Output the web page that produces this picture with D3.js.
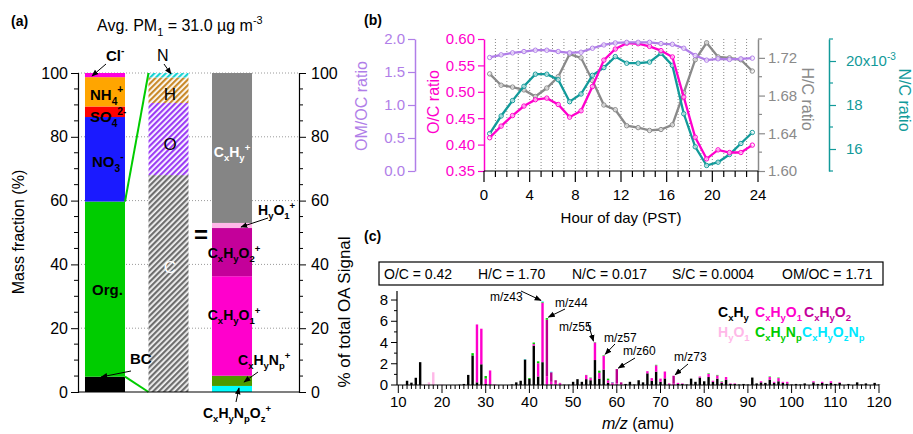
<!DOCTYPE html>
<html><head><meta charset="utf-8">
<script src="https://cdn.jsdelivr.net/npm/d3@7"></script>
<style>
body{margin:0;background:#fff}
svg{display:block}
text{font-family:"Liberation Sans",Arial,Helvetica,sans-serif}
</style>
</head><body>
<svg id="chart" width="913" height="434"></svg>
<script>
// ---------------- DATA ----------------
// Panel (a): PM1 composition (%)
const compNames = ["BC", "Org.", "NO3", "SO4", "NH4", "Cl"];
const compValues = [4.8, 54.9, 26.5, 3.3, 9.2, 1.3];
// Elemental composition of OA (%)
const elemNames = ["C", "O", "H", "N"];
const elemValues = [68.0, 22.6, 8.0, 1.4];
// Ion families of OA (%)
const famNames = ["CxHyNpOz", "CxHyNp", "CxHyO1", "CxHyO2", "HyO1", "CxHy"];
const famValues = [1.9, 3.2, 31.2, 15.1, 1.6, 47.0];

// Panel (b): diurnal cycles
const hours = [0.5,1.5,2.5,3.5,4.5,5.5,6.5,7.5,8.5,9.5,10.5,11.5,12.5,13.5,14.5,15.5,16.5,17.5,18.5,19.5,20.5,21.5,22.5,23.5];
const ocRatio = [0.413,0.435,0.455,0.473,0.485,0.488,0.476,0.452,0.464,0.510,0.560,0.581,0.592,0.591,0.586,0.578,0.566,0.490,0.414,0.373,0.390,0.385,0.385,0.399];
const omocRatio = [1.72,1.76,1.79,1.81,1.83,1.83,1.81,1.79,1.80,1.86,1.91,1.94,1.95,1.95,1.95,1.93,1.92,1.86,1.75,1.68,1.70,1.69,1.70,1.71];
const hcRatio = [1.703,1.691,1.689,1.686,1.679,1.688,1.700,1.724,1.720,1.696,1.670,1.665,1.648,1.646,1.643,1.644,1.649,1.683,1.718,1.736,1.721,1.720,1.718,1.706];
const ncRatio = [0.01670,0.01750,0.01820,0.01885,0.01940,0.01940,0.01915,0.01815,0.01850,0.01935,0.01970,0.02020,0.01990,0.01990,0.01995,0.02035,0.01980,0.01760,0.01610,0.01525,0.01540,0.01575,0.01625,0.01675];

// Panel (c): average HR mass spectrum (% of total OA signal), by ion family
const mzList =   [12,13,14,15,16,17,18,20,24,25,26,27,28,29,30,31,32,36,37,38,39,40,41,42,43,44,45,46,47,48,49,50,51,52,53,54,55,56,57,58,59,60,61,62,63,64,65,66,67,68,69,70,71,72,73,74,75,76,77,78,79,80,81,82,83,84,85,86,87,88,89,90,91,92,93,94,95,96,97,98,99,100,101,102,103,105,106,107,108,109,110,111,113,115,116,117,119,120];
const msCxHy =   [0.40,0.22,0.68,2.15,0,0,0,0,0.03,0.10,0.95,2.78,0.25,1.95,0.10,0.05,0,0.05,0.25,0.40,2.40,0.57,3.70,0.80,2.15,0.03,0.05,0.05,0,0.03,0.03,0.30,0.55,0.30,0.55,0.45,2.35,0.60,1.45,0.20,0,0.05,0,0.10,0.30,0.05,0.45,0.25,1.10,0.40,1.25,0.30,0.62,0.05,0,0.10,0.10,0.05,0.60,0.30,0.70,0.35,0.75,0.30,0.60,0.20,0.50,0.10,0.10,0.05,0.10,0.05,0.70,0.15,0.25,0.20,0.50,0.20,0.35,0.20,0.15,0.05,0.10,0.05,0.15,0.25,0.10,0.20,0.10,0.20,0.10,0.20,0.10,0.25,0.05,0.15,0.20,0.05];
const msCxHyO1 = [0,0,0,0,0,0,0,0,0,0,0,0,5.45,3.35,0.50,1.32,0.05,0,0,0,0,0,0.15,1.25,5.60,0.80,0.25,0.15,0.15,0,0,0,0,0,0.38,0.20,1.65,0.55,1.30,0.25,0.15,0.10,0.05,0,0,0,0,0,0.20,0.25,0.60,0.30,0.65,0.10,0.12,0.10,0.05,0,0,0,0.10,0,0.30,0.10,0.30,0.10,0.25,0.05,0.05,0,0,0,0,0,0.10,0,0.25,0.10,0.30,0.10,0.15,0,0,0,0,0.10,0,0.10,0,0.15,0,0.05,0,0,0,0,0,0];
const msCxHyO2 = [0,0,0,0,0,0,0,0,0,0,0,0,0,0,0,0,0,0,0,0,0,0,0,0,0,5.32,0.90,0.25,0.05,0,0,0,0,0,0,0,0,0,0,0,0.10,1.35,0.20,0,0,0,0,0,0,0,0,0,0,0,0.75,0,0,0,0,0,0,0,0,0,0,0,0,0,0,0,0,0,0,0,0,0,0,0,0,0,0,0,0,0,0,0,0,0,0,0,0,0,0,0,0,0,0,0];
const msHyO1 =   [0,0,0,0,0.05,0.25,1.20,0.05,0,0,0,0,0,0,0,0,0,0,0,0,0,0,0,0,0,0,0,0,0,0,0,0,0,0,0,0,0,0,0,0,0,0,0,0,0,0,0,0,0,0,0,0,0,0,0,0,0,0,0,0,0,0,0,0,0,0,0,0,0,0,0,0,0,0,0,0,0,0,0,0,0,0,0,0,0,0,0,0,0,0,0,0,0,0,0,0,0,0];
const msCxHyNp = [0,0,0,0,0,0,0,0,0,0,0,0.22,0,0,0.25,0,0,0,0,0,0,0.09,0.15,0.18,0.06,0.15,0,0,0,0,0,0,0,0,0.02,0.05,0.03,0.20,0.05,0.15,0,0,0,0,0,0,0,0,0,0,0.05,0,0,0,0,0,0,0,0,0,0,0,0.05,0,0.05,0.05,0,0,0,0,0,0,0,0,0,0,0.05,0,0.05,0,0,0,0,0,0,0,0,0,0,0,0,0,0,0,0,0,0,0];
const msCxHyOzNp=[0,0,0,0,0,0,0,0,0,0,0,0,0,0,0,0,0,0,0,0,0.03,0,0,0,0.06,0,0.05,0,0,0,0,0,0,0,0,0,0,0,0,0,0.03,0,0,0,0,0,0,0,0,0,0,0,0,0,0,0,0,0,0,0,0,0,0,0,0,0,0,0,0,0,0,0,0,0,0,0,0,0,0,0,0,0,0,0,0,0,0,0,0,0,0,0,0,0,0,0,0,0];
const elemRatioLabels = ["O/C = 0.42", "H/C = 1.70", "N/C = 0.017", "S/C = 0.0004", "OM/OC = 1.71"];
const labeledMz = [43, 44, 55, 57, 60, 73];

// ---------------- HELPERS ----------------
const svg = d3.select("#chart");
const defs = svg.append("defs");
defs.append("marker").attr("id","arr").attr("viewBox","0 0 10 10").attr("refX",9).attr("refY",5)
  .attr("markerWidth",7).attr("markerHeight",7).attr("orient","auto-start-reverse")
  .append("path").attr("d","M0,1 L10,5 L0,9 z").attr("fill","#000");

function rich(g, x, y, parts, opt = {}) {
  const size = opt.size || 14;
  const t = g.append("text").attr("x", x).attr("y", y).attr("font-size", size)
    .attr("font-weight", opt.bold ? "bold" : "normal").attr("fill", opt.fill || "#000")
    .attr("text-anchor", opt.anchor || "start");
  if (opt.rotate) t.attr("transform", `rotate(${opt.rotate},${x},${y})`);
  let cur = 0;
  parts.forEach(p => {
    const [s, m, col] = typeof p === "string" ? [p, ""] : p;
    const target = m === "sub" ? size * 0.32 : m === "sup" ? -size * 0.45 : 0;
    const ts = t.append("tspan").attr("dy", target - cur).text(s);
    if (m) ts.attr("font-size", size * 0.68);
    if (col) ts.attr("fill", col);
    cur = target;
  });
  return t;
}
function arrow(g, x1, y1, x2, y2) {
  g.append("line").attr("x1",x1).attr("y1",y1).attr("x2",x2).attr("y2",y2)
    .attr("stroke","#000").attr("stroke-width",1).attr("marker-end","url(#arr)");
}
function hatch(id, color, bg) {
  const p = defs.append("pattern").attr("id", id).attr("patternUnits","userSpaceOnUse")
    .attr("width", 4).attr("height", 4).attr("patternTransform","rotate(45)");
  p.append("rect").attr("width",4).attr("height",4).attr("fill", bg || "#fff");
  p.append("rect").attr("width",2.2).attr("height",4).attr("fill", color);
}
hatch("hC", "#6e6e6e", "#f4f4f4");
hatch("hO", "#9b3cf5");
hatch("hH", "#c98a2a");
hatch("hN", "#19d3d3");

// ================= PANEL A =================
const gA = svg.append("g");
const yA = d3.scaleLinear([0, 100], [392, 73]);
const xA = d3.scaleBand().domain(["ions","elem","fam"]).range([78, 259]).paddingInner(0.37).paddingOuter(0.11);

gA.selectAll("line.grid").data([20,40,60,80,100]).join("line")
  .attr("x1",78).attr("x2",299).attr("y1",d=>yA(d)).attr("y2",d=>yA(d))
  .attr("stroke","#9a9a9a").attr("stroke-dasharray","1,2");

function stack(vals) { let c = 0; return vals.map(v => { const r = [c, c + v]; c += v; return r; }); }
const compColors = ["#000000","#00cc00","#1a1aff","#ff0000","#ffa500","#ff00dd"];
const elemFills = ["url(#hC)","url(#hO)","url(#hH)","url(#hN)"];
const famColors = ["#00ffff","#4d9a00","#ff00cc","#c4009a","#ffb8e8","#858585"];

gA.selectAll("rect.comp").data(stack(compValues)).join("rect")
  .attr("x", xA("ions")).attr("width", xA.bandwidth())
  .attr("y", d=>yA(d[1])).attr("height", d=>yA(d[0])-yA(d[1]))
  .attr("fill",(d,i)=>compColors[i]);
gA.selectAll("rect.elem").data(stack(elemValues)).join("rect")
  .attr("x", xA("elem")).attr("width", xA.bandwidth())
  .attr("y", d=>yA(d[1])).attr("height", d=>yA(d[0])-yA(d[1]))
  .attr("fill",(d,i)=>elemFills[i]);
gA.selectAll("rect.fam").data(stack(famValues)).join("rect")
  .attr("x", xA("fam")).attr("width", xA.bandwidth())
  .attr("y", d=>yA(d[1])).attr("height", d=>yA(d[0])-yA(d[1]))
  .attr("fill",(d,i)=>famColors[i]);

// green connectors (organic -> elemental bar)
const orgStack = stack(compValues)[1];
const b1r = xA("ions") + xA.bandwidth(), b2l = xA("elem");
gA.append("line").attr("x1",b1r).attr("y1",yA(orgStack[1])).attr("x2",b2l).attr("y2",yA(100))
  .attr("stroke","#00cc00").attr("stroke-width",2);
gA.append("line").attr("x1",b1r).attr("y1",yA(orgStack[0])).attr("x2",b2l).attr("y2",yA(0))
  .attr("stroke","#00cc00").attr("stroke-width",2);

// axes
const axL = gA.append("g").attr("transform","translate(78,0)")
  .call(d3.axisLeft(yA).tickValues([0,20,40,60,80,100]).tickSize(7).tickPadding(3));
const axR = gA.append("g").attr("transform","translate(299,0)")
  .call(d3.axisRight(yA).tickValues([0,20,40,60,80,100]).tickSize(7).tickPadding(5));
[axL, axR].forEach(a => { a.selectAll("text").attr("font-size",16).attr("fill","#000");
  a.select(".domain").attr("stroke","#000").attr("stroke-width",1.2); a.selectAll(".tick line").attr("stroke","#000"); });
const minorA = d3.range(5,100,5).filter(v => v % 20 !== 0);
gA.selectAll("line.mL").data(minorA).join("line").attr("x1",74).attr("x2",78)
  .attr("y1",d=>yA(d)).attr("y2",d=>yA(d)).attr("stroke","#000");
gA.selectAll("line.mR").data(minorA).join("line").attr("x1",299).attr("x2",303)
  .attr("y1",d=>yA(d)).attr("y2",d=>yA(d)).attr("stroke","#000");
gA.append("line").attr("x1",78).attr("x2",299).attr("y1",yA(0)).attr("y2",yA(0)).attr("stroke","#000").attr("stroke-width",1.2);

// titles
rich(gA, 11, 26, ["(a)"], {size: 14, bold: true});
rich(gA, 97, 31, ["Avg. PM", ["1","sub"], " = 31.0 \u00b5g m", ["-3","sup"]], {size: 16});
rich(gA, 24, 232, ["Mass fraction (%)"], {size: 16, anchor: "middle", rotate: -90});
rich(gA, 350, 312, ["% of total OA Signal"], {size: 17, anchor: "middle", rotate: -90});

// composition labels
rich(gA, 106, 61, ["Cl", ["-","sup"]], {size: 15, bold: true});
arrow(gA, 106, 64, 92, 76);
rich(gA, 90, 100, ["NH", ["4","sub"], ["+","sup"]], {size: 15, bold: true});
rich(gA, 90, 122, ["SO", ["4","sub"], ["2-","sup"]], {size: 15, bold: true});
rich(gA, 92, 167, ["NO", ["3","sub"], ["-","sup"]], {size: 15, bold: true});
rich(gA, 92, 295, ["Org."], {size: 15, bold: true});
rich(gA, 130, 364, ["BC"], {size: 15, bold: true});
arrow(gA, 131, 371, 101, 377);
rich(gA, 157, 61, ["N"], {size: 16});
arrow(gA, 164, 64, 171, 74);
rich(gA, 170, 100, ["H"], {size: 17, anchor: "middle"});
rich(gA, 170, 150, ["O"], {size: 17, anchor: "middle"});
rich(gA, 170, 273, ["C"], {size: 17, anchor: "middle", fill: "#ffffff"});
rich(gA, 201, 243, ["="], {size: 24, bold: true, anchor: "middle"});
rich(gA, 232, 157, ["C", ["x","sub"], "H", ["y","sub"], ["+","sup"]], {size: 14, bold: true, anchor: "middle", fill: "#ffffff"});
rich(gA, 258, 215, ["H", ["y","sub"], "O", ["1","sub"], ["+","sup"]], {size: 14, bold: true});
arrow(gA, 268, 218, 241, 227);
rich(gA, 234, 258, ["C", ["x","sub"], "H", ["y","sub"], "O", ["2","sub"], ["+","sup"]], {size: 14, bold: true, anchor: "middle"});
rich(gA, 234, 320, ["C", ["x","sub"], "H", ["y","sub"], "O", ["1","sub"], ["+","sup"]], {size: 14, bold: true, anchor: "middle"});
rich(gA, 238, 365, ["C", ["x","sub"], "H", ["y","sub"], "N", ["p","sub"], ["+","sup"]], {size: 14, bold: true});
arrow(gA, 258, 372, 244, 382);
rich(gA, 237, 418, ["C", ["x","sub"], "H", ["y","sub"], "N", ["p","sub"], "O", ["z","sub"], ["+","sup"]], {size: 14, bold: true, anchor: "middle"});
arrow(gA, 236, 402, 239, 388);

// ================= PANEL B =================
const gB = svg.append("g");
const bL = 484, bR = 758, axOMx = 415, axNCx = 829;
const xB = d3.scaleLinear([0, 24], [bL, bR]);
const yOC = d3.scaleLinear([0.35, 0.60], [171, 39]);
const yOM = d3.scaleLinear([0, 2], [171, 39]);
const yHC = d3.scaleLinear([1.60, 1.74], [171, 39]);
const yNC = d3.scaleLinear([0.015, 0.021], [171, 39]);
const cOM = "#b07ee8", cOC = "#ff00cc", cHC = "#8a8a8a", cNC = "#129a9a";

gB.selectAll("line.vg").data(d3.range(1, 24)).join("line")
  .attr("x1",d=>xB(d)).attr("x2",d=>xB(d)).attr("y1",39).attr("y2",171)
  .attr("stroke","#555").attr("stroke-width",0.7).attr("stroke-dasharray","1,2");

function styleAxis(a, col, fs) {
  a.select(".domain").attr("stroke", col).attr("stroke-width", 1.5);
  a.selectAll(".tick line").attr("stroke", col).attr("stroke-width", 1.2);
  a.selectAll("text").attr("font-size", fs || 15).attr("fill", col);
}
const axOM = gB.append("g").attr("transform",`translate(${axOMx},0)`)
  .call(d3.axisLeft(yOM).tickValues([0,0.5,1,1.5,2]).tickFormat(d3.format(".1f")).tickSize(7).tickPadding(3).tickSizeOuter(0));
styleAxis(axOM, cOM);
const axOC = gB.append("g").attr("transform",`translate(${bL},0)`)
  .call(d3.axisLeft(yOC).tickValues([0.35,0.40,0.45,0.50,0.55,0.60]).tickFormat(d3.format(".2f")).tickSize(6).tickPadding(3).tickSizeOuter(0));
styleAxis(axOC, cOC);
const axHC = gB.append("g").attr("transform",`translate(${bR},0)`)
  .call(d3.axisRight(yHC).tickValues([1.60,1.64,1.68,1.72]).tickFormat(d3.format(".2f")).tickSize(7).tickPadding(3).tickSizeOuter(0));
styleAxis(axHC, cHC);
gB.selectAll("line.hcm").data([1.62,1.66,1.70,1.74]).join("line")
  .attr("x1",bR).attr("x2",bR+4).attr("y1",d=>yHC(d)).attr("y2",d=>yHC(d)).attr("stroke",cHC).attr("stroke-width",1.2);
const axNC = gB.append("g").attr("transform",`translate(${axNCx},0)`)
  .call(d3.axisRight(yNC).tickValues([0.016,0.018,0.020]).tickFormat(d => d3.format(".0f")(d*1000)).tickSize(7).tickPadding(10).tickSizeOuter(0));
styleAxis(axNC, cNC);
axNC.selectAll(".tick text").filter(d => Math.abs(d - 0.020) < 1e-9).each(function() {
  const t = d3.select(this); t.text("20x10");
  t.append("tspan").attr("dy", "-0.6em").attr("font-size", 10).text("-3");
});
gB.selectAll("line.ncm").data([0.015,0.017,0.019,0.021]).join("line")
  .attr("x1",axNCx).attr("x2",axNCx+4).attr("y1",d=>yNC(d)).attr("y2",d=>yNC(d)).attr("stroke",cNC).attr("stroke-width",1.2);

// x axis
gB.append("line").attr("x1",bL).attr("x2",bR).attr("y1",171).attr("y2",171).attr("stroke","#000").attr("stroke-width",1.2);
gB.selectAll("line.xt").data(d3.range(0, 25)).join("line")
  .attr("x1",d=>xB(d)).attr("x2",d=>xB(d)).attr("y1",171).attr("y2",d=> d % 4 === 0 ? 182 : 177)
  .attr("stroke","#000").attr("stroke-width",1.2);
gB.selectAll("text.xl").data(d3.range(0, 25, 4)).join("text")
  .attr("x",d=>xB(d)).attr("y",200).attr("text-anchor","middle").attr("font-size",15).text(d=>d);
rich(gB, (bL + bR) / 2, 223, ["Hour of day (PST)"], {size: 15, anchor: "middle"});

// series
function series(vals, yS, col) {
  const pts = hours.map((h, i) => [xB(h), yS(vals[i])]);
  gB.append("path").attr("d", d3.line()(pts)).attr("fill","none")
    .attr("stroke", col).attr("stroke-width", 2.3);
  gB.selectAll(null).data(pts).join("circle").attr("cx",d=>d[0]).attr("cy",d=>d[1]).attr("r",2.2)
    .attr("fill","#fff").attr("fill-opacity",0.6).attr("stroke",col).attr("stroke-width",1);
}
series(hcRatio, yHC, cHC);
series(ncRatio, yNC, cNC);
series(ocRatio, yOC, cOC);
series(omocRatio, yOM, cOM);

rich(gB, 364, 25, ["(b)"], {size: 14, bold: true});
rich(gB, 367, 106, ["OM/OC ratio"], {size: 16, anchor: "middle", rotate: -90, fill: cOM});
rich(gB, 439, 102, ["O/C ratio"], {size: 16, anchor: "middle", rotate: -90, fill: cOC});
rich(gB, 802, 99, ["H/C ratio"], {size: 16, anchor: "middle", rotate: 90, fill: cHC});
rich(gB, 899, 100, ["N/C ratio"], {size: 16, anchor: "middle", rotate: 90, fill: cNC});

// ================= PANEL C =================
const gC = svg.append("g");
const cL = 397, cR = 879;
const xC = d3.scaleLinear([9.7, 120], [cL, cR]);
const yC = d3.scaleLinear([0, 8.85], [385, 291]);
rich(gC, 364, 241, ["(c)"], {size: 14, bold: true});

gC.append("rect").attr("x",379).attr("y",262).attr("width",504).attr("height",23)
  .attr("fill","#fff").attr("stroke","#000").attr("stroke-width",1.2);
const boxX = [384, 478, 572, 672, 782];
elemRatioLabels.forEach((s, i) => rich(gC, boxX[i], 279, [s], {size: 14}));

const famSeries = [msCxHy, msCxHyO1, msCxHyO2, msHyO1, msCxHyNp, msCxHyOzNp];
const specColors = ["#000000", "#ff00cc", "#b8008c", "#ffb8e8", "#00cc00", "#00f0ff"];
const bw = 2.4;
mzList.forEach((mz, i) => {
  let c = 0;
  famSeries.forEach((arr, k) => {
    const v = arr[i];
    if (v > 0) {
      gC.append("rect").attr("x", xC(mz) - bw/2).attr("width", bw)
        .attr("y", yC(c + v)).attr("height", yC(c) - yC(c + v)).attr("fill", specColors[k]);
    }
    c += v;
  });
});

// axes
gC.append("line").attr("x1",cL).attr("x2",cR).attr("y1",385).attr("y2",385).attr("stroke","#000").attr("stroke-width",1.2);
gC.append("line").attr("x1",cL).attr("x2",cL).attr("y1",291).attr("y2",385).attr("stroke","#000").attr("stroke-width",1.2);
gC.selectAll("line.cx").data(d3.range(10, 121)).join("line")
  .attr("x1",d=>xC(d)).attr("x2",d=>xC(d)).attr("y1",385).attr("y2",d => d % 10 === 0 ? 393 : 389)
  .attr("stroke","#000").attr("stroke-width",1);
gC.selectAll("text.cxl").data(d3.range(10, 121, 10)).join("text")
  .attr("x",d=>xC(d)).attr("y",407).attr("text-anchor","middle").attr("font-size",15).text(d=>d);
gC.selectAll("line.cy").data(d3.range(0, 9)).join("line")
  .attr("x1",d => d % 2 === 0 ? cL-6 : cL-3).attr("x2",cL).attr("y1",d=>yC(d)).attr("y2",d=>yC(d))
  .attr("stroke","#000").attr("stroke-width",1);
gC.selectAll("text.cyl").data([0,2,4,6,8]).join("text")
  .attr("x",cL-9).attr("y",d=>yC(d)+5).attr("text-anchor","end").attr("font-size",15).text(d=>d);
const xt = rich(gC, (cL + cR) / 2, 429, [], {size: 16, anchor: "middle"});
xt.append("tspan").attr("font-style","italic").text("m/z");
xt.append("tspan").text("  (amu)");

// m/z annotations
const annText = {43:[490,301], 44:[555,307], 55:[559,331], 57:[604,342], 60:[623,355], 73:[674,361]};
const annFrom = {43:[521,291], 44:[565,309], 55:[588,323], 57:[615,344], 60:[635,358], 73:[688,364]};
labeledMz.forEach(mz => {
  const i = mzList.indexOf(mz);
  const tot = famSeries.reduce((s, a) => s + a[i], 0);
  rich(gC, annText[mz][0], annText[mz][1], ["m/z" + mz], {size: 12});
  const side = mz === 43 || mz === 55 ? -1 : 1;
  arrow(gC, annFrom[mz][0], annFrom[mz][1], xC(mz) + side * 1.5, yC(tot) - 1);
});

// legend
const lg = [
  [718, 317, ["C",["x","sub"],"H",["y","sub"]], "#000"],
  [755, 317, ["C",["x","sub"],"H",["y","sub"],"O",["1","sub"]], "#ff00cc"],
  [804, 317, ["C",["x","sub"],"H",["y","sub"],"O",["2","sub"]], "#c4009a"],
  [718, 337, ["H",["y","sub"],"O",["1","sub"]], "#ffb8e8"],
  [755, 337, ["C",["x","sub"],"H",["y","sub"],"N",["p","sub"]], "#00cc00"],
  [802, 337, ["C",["x","sub"],"H",["y","sub"],"O",["z","sub"],"N",["p","sub"]], "#00e8ff"]
];
lg.forEach(([x, y, parts, col]) => rich(gC, x, y, parts, {size: 14, bold: true, fill: col}));
</script>
</body></html>
